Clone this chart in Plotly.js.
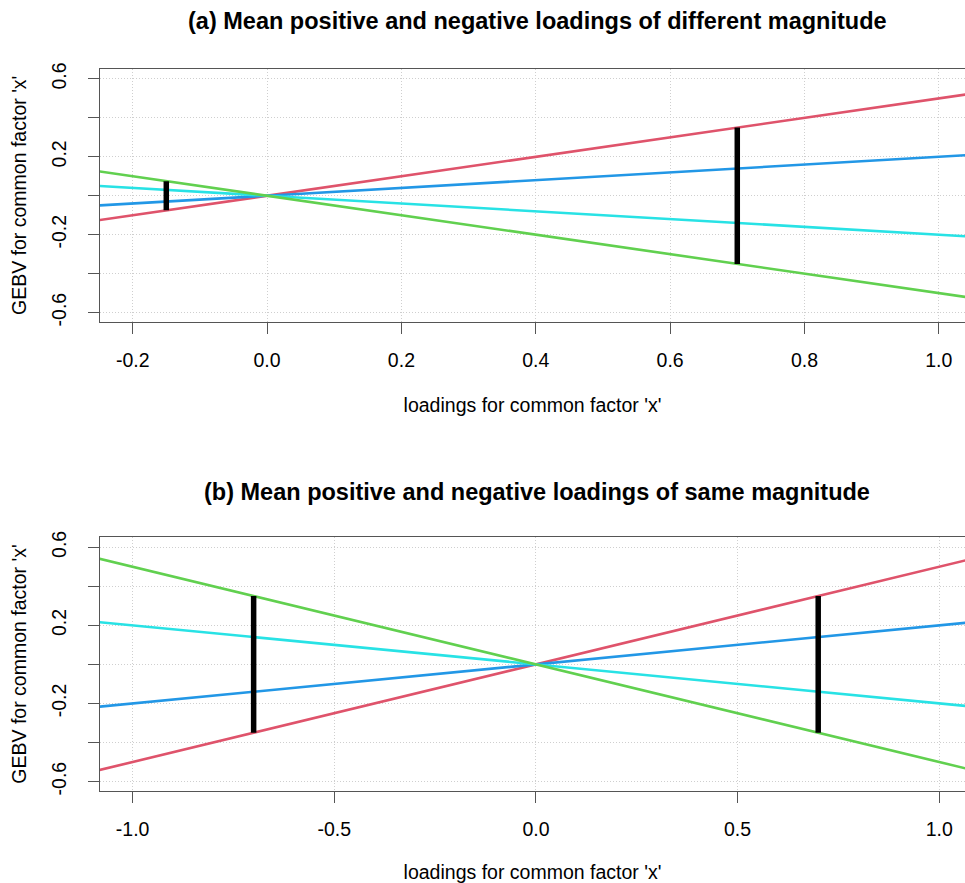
<!DOCTYPE html>
<html>
<head>
<meta charset="utf-8">
<script src="https://cdn.plot.ly/plotly-3.0.1.min.js"></script>
<style>html,body{margin:0;padding:0;background:#fff}#chart{width:965px;height:883px}</style>
</head>
<body>
<div id="chart"></div>
<script>
// Line endpoints (lines run through the origin and across the whole panel)
const lineX = [-1.2, 1.2];
const redY = [-0.6, 0.6];
const blueY = [-0.24, 0.24];
const cyanY = [0.24, -0.24];
const greenY = [0.6, -0.6];

// Black vertical segments, panel (a)
const segAX = [-0.15, 0.7];
const segALow = [-0.075, -0.35];
const segAHigh = [0.075, 0.35];
// Black vertical segments, panel (b)
const segBX = [-0.7, 0.7];
const segBLow = [-0.35, -0.35];
const segBHigh = [0.35, 0.35];

const xTicksA = [-0.2, 0.0, 0.2, 0.4, 0.6, 0.8, 1.0];
const xTicksB = [-1.0, -0.5, 0.0, 0.5, 1.0];
const yTicks = [-0.6, -0.4, -0.2, 0.0, 0.2, 0.4, 0.6];
const yTickText = ['-0.6', '', '-0.2', '', '0.2', '', '0.6'];

const titleA = '(a) Mean positive and negative loadings of different magnitude';
const titleB = '(b) Mean positive and negative loadings of same magnitude';
const xTitle = "loadings for common factor 'x'";
const yTitle = "GEBV for common factor 'x'";

const colors = {red: '#DF536B', blue: '#2297E6', cyan: '#28E2E5', green: '#61D04F'};

const traces = [];
function addLines(xa, ya) {
  [['red', redY], ['blue', blueY], ['cyan', cyanY], ['green', greenY]].forEach(([c, ys]) => {
    traces.push({x: lineX, y: ys, xaxis: xa, yaxis: ya, mode: 'lines', type: 'scatter',
      line: {color: colors[c], width: 2.6}, showlegend: false, hoverinfo: 'skip'});
  });
}
function addSegs(xs, lo, hi, xa, ya) {
  xs.forEach((x, i) => {
    traces.push({x: [x, x], y: [lo[i], hi[i]], xaxis: xa, yaxis: ya, mode: 'lines', type: 'scatter',
      line: {color: '#000', width: 5.5}, showlegend: false, hoverinfo: 'skip'});
  });
}
addLines('x', 'y');
addSegs(segAX, segALow, segAHigh, 'x', 'y');
addLines('x2', 'y2');
addSegs(segBX, segBLow, segBHigh, 'x2', 'y2');

const H = 883;
const FAM = 'Liberation Sans, Arial, sans-serif';
const axCommon = {
  showline: true, linecolor: '#555', linewidth: 1,
  ticks: 'outside', ticklen: 11, tickcolor: '#555', tickwidth: 1,
  showgrid: true, gridcolor: '#cfcfcf', griddash: '1px,2px', gridwidth: 1,
  zeroline: false, tickfont: {family: FAM, size: 19.5, color: '#000'},
  automargin: false
};
function xAxis(range, ticks, anchor) {
  return Object.assign({}, axCommon, {
    range: range, tickmode: 'array', tickvals: ticks,
    ticktext: ticks.map(v => v.toFixed(1)), mirror: true, anchor: anchor,
    ticklabelstandoff: 10,
    title: {text: xTitle, font: {family: FAM, size: 19.5, color: '#000'}, standoff: 28}
  });
}
function yAxis(domain, anchor) {
  return Object.assign({}, axCommon, {
    range: [-0.647, 0.651], domain: domain, tickmode: 'array', tickvals: yTicks,
    ticktext: yTickText, tickangle: -90, anchor: anchor, mirror: false,
    ticklabelstandoff: 14,
    title: {text: yTitle, font: {family: FAM, size: 19.5, color: '#000'}, standoff: 16}
  });
}

const layout = {
  width: 965, height: 883,
  margin: {l: 100, r: 0, t: 0, b: 0},
  paper_bgcolor: '#fff', plot_bgcolor: '#fff',
  font: {family: FAM, color: '#000'},
  showlegend: false,
  xaxis: xAxis([-0.2487, 1.039], xTicksA, 'y'),
  yaxis: yAxis([1 - 321.7 / H, 1 - 69 / H], 'x'),
  xaxis2: xAxis([-1.081, 1.064], xTicksB, 'y2'),
  yaxis2: yAxis([1 - 790.7 / H, 1 - 537.3 / H], 'x2'),
  annotations: [
    {text: '<b>' + titleA + '</b>', xref: 'paper', yref: 'paper', x: 0.5055, y: 1 - 21 / H,
      xanchor: 'center', yanchor: 'middle', showarrow: false, font: {family: FAM, size: 23.5, color: '#000'}},
    {text: '<b>' + titleB + '</b>', xref: 'paper', yref: 'paper', x: 0.5055, y: 1 - 492 / H,
      xanchor: 'center', yanchor: 'middle', showarrow: false, font: {family: FAM, size: 23.5, color: '#000'}}
  ]
};

Plotly.newPlot('chart', traces, layout, {displayModeBar: false, staticPlot: true});
</script>
</body>
</html>
